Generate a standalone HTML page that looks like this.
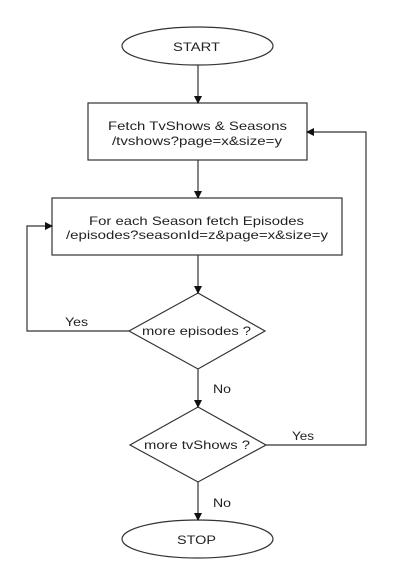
<!DOCTYPE html>
<html><head><style>
html,body{margin:0;padding:0;background:#fff;}
svg{display:block;}
text{font-family:"Liberation Sans",Arial,sans-serif;font-size:12px;fill:#222;}
</style></head><body>
<svg width="400" height="565" viewBox="0 0 400 565" xmlns="http://www.w3.org/2000/svg">
<defs><marker id="a" markerWidth="8" markerHeight="8" refX="7" refY="4" orient="auto" markerUnits="userSpaceOnUse"><path d="M0,0 L8,4 L0,8 z" fill="#111"/></marker></defs>
<g stroke="#333" stroke-width="1.2" fill="none">
<ellipse cx="197.5" cy="46" rx="75.5" ry="19" fill="#fff"/>
<rect x="88" y="103" width="219" height="57" fill="#fff"/>
<rect x="52" y="198" width="290" height="57" fill="#fff"/>
<polygon points="198,293 265,331 198,369 129,331" fill="#fff"/>
<polygon points="198,407 266,445 198,482 130,445" fill="#fff"/>
<ellipse cx="197.5" cy="539" rx="75.5" ry="19" fill="#fff"/>
<line x1="198" y1="65" x2="198" y2="103" marker-end="url(#a)"/>
<line x1="198" y1="160" x2="198" y2="198" marker-end="url(#a)"/>
<line x1="198" y1="255" x2="198" y2="293" marker-end="url(#a)"/>
<line x1="198" y1="369" x2="198" y2="407" marker-end="url(#a)"/>
<line x1="198" y1="482" x2="198" y2="520" marker-end="url(#a)"/>
<polyline points="129,331 27,331 27,226 52,226" marker-end="url(#a)"/>
<polyline points="266,445 366,445 366,132 307,132" marker-end="url(#a)"/>
</g>
<g lengthAdjust="spacingAndGlyphs">
<text x="173" y="51" textLength="47" lengthAdjust="spacingAndGlyphs">START</text>
<text x="108" y="130" textLength="179" lengthAdjust="spacingAndGlyphs">Fetch TvShows &amp; Seasons</text>
<text x="112" y="145" textLength="170" lengthAdjust="spacingAndGlyphs">/tvshows?page=x&amp;size=y</text>
<text x="89" y="225" textLength="215" lengthAdjust="spacingAndGlyphs">For each Season fetch Episodes</text>
<text x="66" y="239" textLength="262" lengthAdjust="spacingAndGlyphs">/episodes?seasonId=z&amp;page=x&amp;size=y</text>
<text x="142" y="335" textLength="109" lengthAdjust="spacingAndGlyphs">more episodes ?</text>
<text x="144" y="449" textLength="106" lengthAdjust="spacingAndGlyphs">more tvShows ?</text>
<text x="177" y="544" textLength="39" lengthAdjust="spacingAndGlyphs">STOP</text>
<text x="65" y="326" textLength="23" lengthAdjust="spacingAndGlyphs">Yes</text>
<text x="292" y="440" textLength="22" lengthAdjust="spacingAndGlyphs">Yes</text>
<text x="213" y="393" textLength="18" lengthAdjust="spacingAndGlyphs">No</text>
<text x="213" y="507" textLength="18" lengthAdjust="spacingAndGlyphs">No</text>
</g>
</svg>
</body></html>
